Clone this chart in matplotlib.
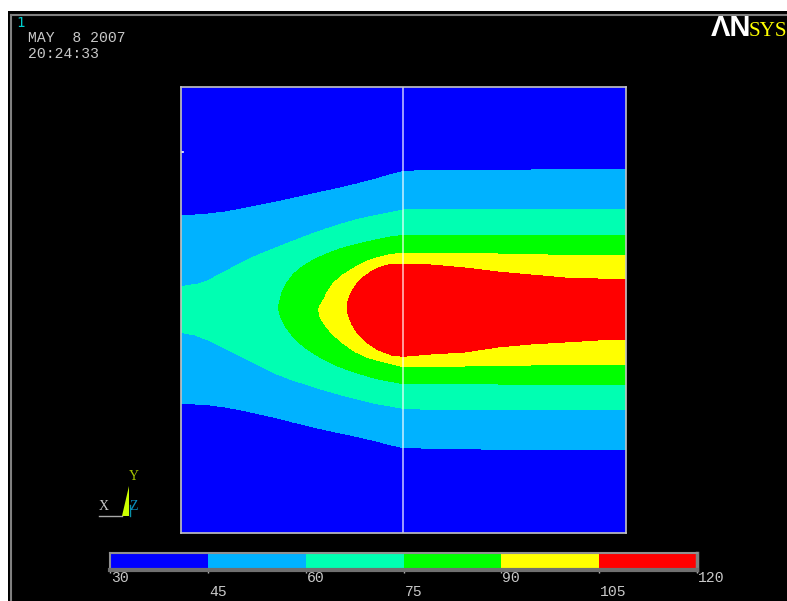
import matplotlib
matplotlib.use("Agg")
import matplotlib.pyplot as plt
from matplotlib.patches import Rectangle

# Band colours, low to high
levels = [30, 45, 60, 75, 90, 105, 120]
band_colors = ["#0000ff", "#00b2ff", "#00ffb2", "#00ff00", "#ffff00", "#ff0000"]
level_labels = ["30", "45", "60", "75", "90", "105", "120"]

# Contour lines (model units, origin bottom left)
blue_top_x = [0, 14, 27.3, 44, 60.7, 77.3, 94, 110.7, 127.3, 144, 160.7, 177.3, 194, 210.7, 222.3, 250, 350, 445]
blue_top_y = [317, 318, 319, 321, 324, 327.3, 330.7, 334.3, 338, 341.7, 345.3, 349.3, 353.7, 358.7, 361.3, 363, 363, 364]
blue_bot_x = [0, 14, 27.3, 44, 60.7, 77.3, 94, 110.7, 127.3, 144, 160.7, 177.3, 194, 210.7, 222.3, 300, 445]
blue_bot_y = [129, 129, 128.3, 126, 123, 119.3, 115.7, 111.3, 107.3, 103.3, 99.7, 96.3, 92.3, 88, 85.3, 84, 83]

cyan_top_x = [0, 17.3, 27.3, 37.3, 47.3, 60.7, 77.3, 94, 110.7, 127.3, 144, 160.7, 177.3, 194, 210.7, 222.3, 317, 445]
cyan_top_y = [246.3, 249, 252.3, 258, 263, 270.3, 278, 284.7, 291.3, 297.7, 303.7, 309, 313.7, 317.3, 320.7, 323, 324, 324]
cyan_bot_x = [0, 14, 27.3, 44, 60.7, 77.3, 94, 110.7, 127.3, 144, 160.7, 177.3, 194, 210.7, 222.3, 264, 445]
cyan_bot_y = [200.7, 198, 193, 184.7, 176.3, 168, 159.7, 153.3, 148, 142.7, 138, 133.7, 129.7, 126.7, 124.7, 123, 123]

green_x = [445, 250, 222.3, 207.3, 194, 177.3, 160.7, 147.3, 134, 122.3, 112.3, 105.7, 100.7, 98.3, 97.7, 97.7,
           99, 104, 110.7, 119, 127.3, 140.7, 154, 167.3, 180.7, 194, 207.3, 222.3, 317, 445]
green_y = [298, 298, 297.7, 295.7, 293, 289, 284.7, 279.7, 274, 267, 258.7, 249.7, 239.7, 229.7, 228, 223,
           218, 207, 198, 189.7, 183, 174.7, 168, 163, 158.7, 154.7, 152, 149.3, 149, 148]

yellow_x = [445, 367, 317, 222, 210.7, 200.7, 190.7, 180.7, 170.7, 160.7, 152.3, 146.5, 142.5, 139.3, 138, 137.7,
            139, 144, 150.7, 160.7, 174, 187.3, 204, 222.3, 284, 350, 445]
yellow_y = [278, 278, 279, 279.7, 278.7, 276.3, 273.7, 269.3, 263.7, 257.3, 249.7, 241.3, 233, 228, 225, 223,
            216, 208, 199.7, 190.7, 181.3, 175.3, 170.7, 166.3, 167, 168, 169]

red_x = [445, 417, 384, 350, 317, 284, 250, 222.3, 210.7, 200.7, 190.7, 182.3, 175.7, 170.7, 167.3, 166, 166,
         167.3, 171.3, 177.3, 185.7, 197.3, 210.7, 222.3, 250, 284, 317, 350, 384, 417, 445]
red_y = [254, 254, 255, 258, 261, 265, 268, 269, 268.7, 266.3, 261.7, 255.7, 249, 241.3, 233, 228, 223,
         218, 208, 198.7, 190.7, 183, 178, 176.7, 179, 181, 186, 189, 191, 193, 194]

W, H = 787, 601
fig = plt.figure(figsize=(W / 100, H / 100), dpi=100, facecolor="white")

# Background layer in pixel coordinates: black screen and annotations
bg = fig.add_axes([0, 0, 1, 1])
bg.set_xlim(0, W)
bg.set_ylim(H, 0)
bg.axis("off")
bg.add_patch(Rectangle((8, 11), W, H, facecolor="black", edgecolor="none"))
bg.plot([10.5, 10.5], [H, 14.5], color="#808080", lw=1.5)
bg.plot([10.5, W], [14.5, 14.5], color="#808080", lw=1.5)

mono = "Liberation Mono"
gray = "#c8c8c8"
bg.text(16, 23, "1", color="#00d0d0", fontsize=10, family="DejaVu Sans Mono", va="center")
bg.text(28, 38.5, "MAY  8 2007", color=gray, fontsize=10.6, family=mono, va="center")
bg.text(28, 54.5, "20:24:33", color=gray, fontsize=10.6, family=mono, va="center")

# Logo
bg.text(711, 36, "ΛN", color="white", fontsize=21, family="Liberation Sans",
        weight="bold", va="baseline")
bg.text(748.5, 36, "SYS", color="#ffff00", fontsize=15.2, family="Liberation Serif",
        va="baseline")

# Triad
bg.fill([122, 129, 129], [516, 486, 516], color="#ccff00", lw=0)
bg.plot([99, 122], [515.5, 515.5], color="#a8a8a8", lw=1)
bg.plot([129.5, 129.5], [505, 516], color="#0a8fa8", lw=1)
bg.text(99, 507, "X", color=gray, fontsize=10, family="Liberation Serif", va="center")
bg.text(129, 477, "Y", color="#a8c800", fontsize=10, family="Liberation Serif", va="center")
bg.text(129.5, 507, "Z", color="#0a8fc0", fontsize=10, family="Liberation Serif", va="center")

# Contour plot
ax = fig.add_axes([181 / W, (H - 533) / H, 445 / W, 446 / H])
ax.set_xlim(0, 445)
ax.set_ylim(0, 446)
ax.set_facecolor(band_colors[0])
ax.set_xticks([])
ax.set_yticks([])

ax.fill(blue_top_x + blue_bot_x[::-1], blue_top_y + blue_bot_y[::-1],
        color=band_colors[1], lw=0, antialiased=False)
ax.fill(cyan_top_x + cyan_bot_x[::-1], cyan_top_y + cyan_bot_y[::-1],
        color=band_colors[2], lw=0, antialiased=False)
ax.fill(green_x, green_y, color=band_colors[3], lw=0, antialiased=False)
ax.fill(yellow_x, yellow_y, color=band_colors[4], lw=0, antialiased=False)
ax.fill(red_x, red_y, color=band_colors[5], lw=0, antialiased=False)

# Element edge down the middle and the small mark on the left side
ax.axvline(222, color="white", alpha=0.72, lw=1.2)
ax.plot([0, 1.5], [381, 381], color="white", lw=1.2)

for side in ax.spines.values():
    side.set_color("#c4c4c4")
    side.set_linewidth(1.2)

# Colour key
cb = fig.add_axes([110 / W, (H - 570) / H, 587 / W, 17 / H])
cb.set_xlim(levels[0], levels[-1])
cb.set_ylim(0, 1)
cb.set_yticks([])
cb.set_xticks(levels)
cb.set_xticklabels([])
cb.tick_params(axis="x", color="#b0b0b0", length=2, width=1)
for i in range(len(band_colors)):
    cb.barh(0.5, levels[i + 1] - levels[i], height=1, left=levels[i],
            color=band_colors[i], lw=0, antialiased=False)
cb.spines["top"].set_color("#909090")
cb.spines["left"].set_color("#909090")
cb.spines["right"].set_color("#808080")
cb.spines["bottom"].set_color("#707070")
cb.spines["top"].set_linewidth(1.5)
cb.spines["left"].set_linewidth(1.5)
cb.spines["right"].set_linewidth(2.5)
cb.spines["bottom"].set_linewidth(3)

# Key labels sit on two alternating rows
for i, lab in enumerate(level_labels):
    row = 578 if i % 2 == 0 else 592
    tx = 110 + 587 * (levels[i] - levels[0]) / (levels[-1] - levels[0]) + 1
    bg.text(tx, row, lab, color=gray, fontsize=10.6, family=mono, va="center")

fig.savefig("out.png", dpi=100, facecolor="white")
